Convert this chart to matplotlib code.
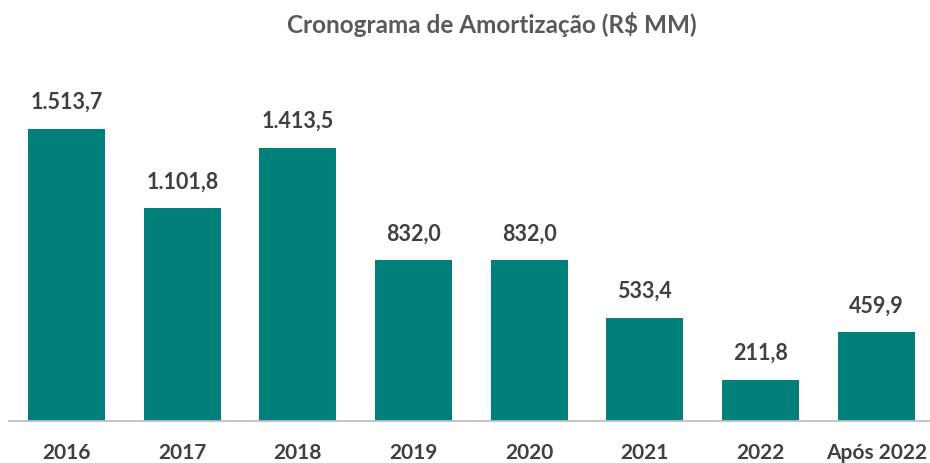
import matplotlib.pyplot as plt
from matplotlib import rcParams

rcParams['font.family'] = ['Lato', 'DejaVu Sans']

# data
categories = ['2016', '2017', '2018', '2019', '2020', '2021', '2022', 'Após 2022']
values = [1513.7, 1101.8, 1413.5, 832.0, 832.0, 533.4, 211.8, 459.9]
value_labels = ['1.513,7', '1.101,8', '1.413,5', '832,0', '832,0', '533,4', '211,8', '459,9']

BAR_COLOR = '#007F7B'
TEXT_COLOR = '#404040'
TITLE_COLOR = '#595959'

fig = plt.figure(figsize=(9.3, 4.63), dpi=100)
ax = fig.add_axes([0.0094, 0.0907, 0.995, 0.6674])

x = range(len(categories))
bars = ax.bar(x, values, width=0.665, color=BAR_COLOR)

for rect, lab in zip(bars, value_labels):
	ax.annotate(lab, (rect.get_x() + rect.get_width() / 2, rect.get_height()),
		xytext=(0, 11.5), textcoords='offset points',
		ha='center', va='bottom', fontsize=15.5, fontweight='bold', color=TEXT_COLOR)

ax.set_xlim(-0.5, len(categories) - 0.5)
ax.set_ylim(0, 1600)
ax.set_xticks(list(x))
ax.set_xticklabels(categories, fontsize=15, fontweight='bold', color=TEXT_COLOR)
ax.tick_params(axis='x', length=0, pad=16)
ax.set_yticks([])

for s in ['top', 'right', 'left']:
	ax.spines[s].set_visible(False)
ax.spines['bottom'].set_color('#BFBFBF')
ax.spines['bottom'].set_linewidth(1.3)

fig.text(0.529, 0.948, 'Cronograma de Amortização (R$ MM)', ha='center', va='center',
	fontsize=17.5, fontweight='bold', color=TITLE_COLOR)

plt.savefig('out.png', dpi=100)
